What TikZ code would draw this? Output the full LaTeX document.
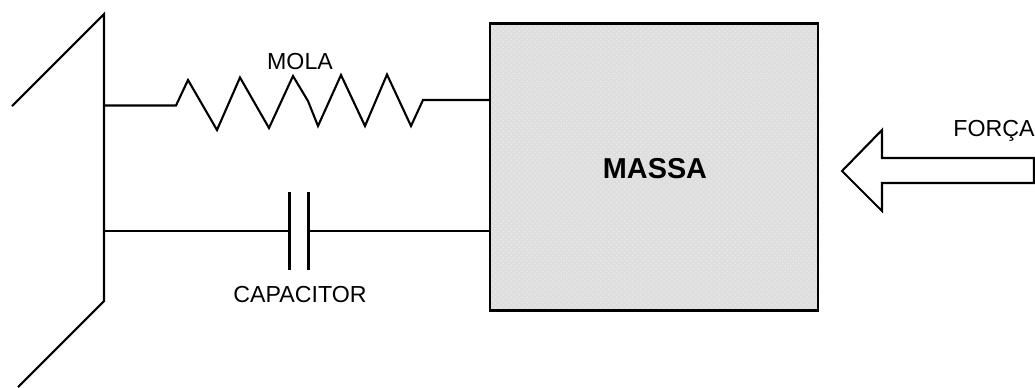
\documentclass[tikz,border=0pt]{standalone}
\usepackage{fontspec}
\setmainfont{Liberation Sans}
\usetikzlibrary{patterns}
\definecolor{massgray}{rgb}{0.87,0.87,0.87}

\begin{document}
\begin{tikzpicture}[x=0.02cm,y=-0.02cm]
	\tikzset{
		wire/.style={line width = 1.2pt, line join=miter},
		lbl/.style={inner sep=0pt, font=\fontsize{13.2}{15}\selectfont},
		massbox/.style={draw, line width = 1.2pt, minimum width=6.56cm, minimum height=5.74cm, inner sep=0pt,
			preaction={fill=massgray}, pattern=crosshatch dots, pattern color=white!92!black}
	}
	
	\useasboundingbox (0,0) rectangle (1035,387);
	
	\draw[wire] (12,106)--(104,14)--(104,301)--(18,387);
	
	\node[massbox] (massa) at (654,167) {};
	\node[inner sep=0pt, font=\bfseries\fontsize{16.4}{18}\selectfont] (massalbl) at (655,169) {MASSA};
	
	\coordinate (molaA) at (104,105.5);
	\coordinate (molaB) at (490,100);
	\draw[wire] (molaA)--(176,105.5)--(188,80)--(217,130)--(240,77.5)--(269,128)--(293,76)--(308,101)--(318,126)--(341,75)--(365,126)--(387,74.5)--(411,126)--(423,100)--(molaB);
	\node[lbl] (mola) at (300,62) {MOLA};
	
	\coordinate (capA) at (104,231);
	\coordinate (capB) at (490,231);
	\coordinate (plateA) at (289.5,231);
	\coordinate (plateB) at (308.5,231);
	\draw[wire] (capA)--(plateA);
	\draw[wire] (plateB)--(capB);
	\draw[wire] (289.5,192)--(289.5,270);
	\draw[wire] (308.5,192)--(308.5,270);
	\node[lbl] (capacitor) at (300,295) {CAPACITOR};
	
	\draw[wire] (842,171)--(882,130)--(882,158)--(1034,158)--(1034,183)--(882,183)--(882,211)--cycle;
	\node[lbl] (forca) at (994,130.5) {FORÇA};
	
\end{tikzpicture}
\end{document}
